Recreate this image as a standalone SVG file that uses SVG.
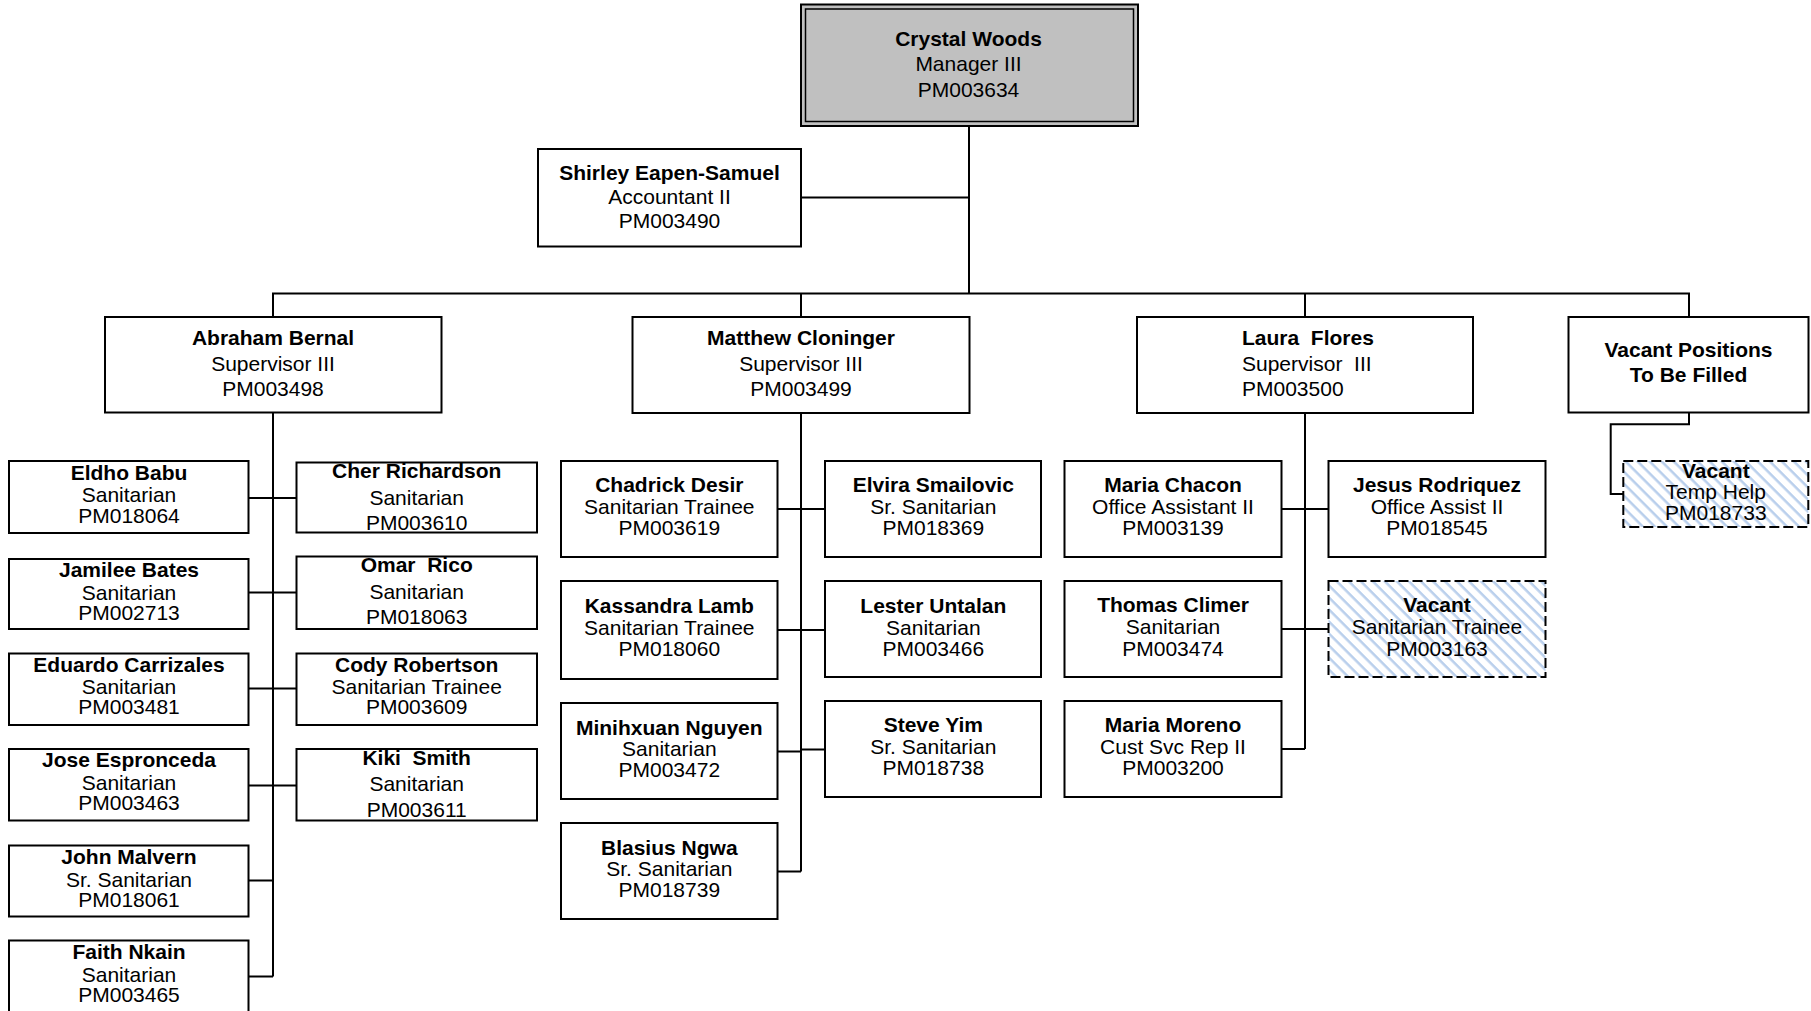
<svg xmlns="http://www.w3.org/2000/svg" width="1811" height="1011" viewBox="0 0 1811 1011">
<style>
text{font-family:"Liberation Sans",Arial,sans-serif;font-size:21px;fill:#000;text-anchor:middle}
.n{font-weight:bold}
.box{fill:#fff;stroke:#000;stroke-width:2}
.vac{fill:url(#hatch);stroke:#000;stroke-width:2;stroke-dasharray:10 4}
.ln{fill:none;stroke:#000;stroke-width:2}
.ls{text-anchor:start}
</style>
<defs>
<pattern id="hatch" patternUnits="userSpaceOnUse" width="8.5" height="8.5" patternTransform="rotate(45)">
<rect width="8.5" height="8.5" fill="#fff"/>
<rect width="8.5" height="2.5" fill="#b9cfec"/>
</pattern>
</defs>
<rect width="1811" height="1011" fill="#fff"/>
<g id="connectors">
<path class="ln" d="M969,126 V293.5"/>
<path class="ln" d="M801,197.5 H969"/>
<path class="ln" d="M273,317 V293.5 H1689 V317"/>
<path class="ln" d="M801,293.5 V317"/>
<path class="ln" d="M1305,293.5 V317"/>
<path class="ln" d="M273,412.5 V976.5"/>
<path class="ln" d="M248.5,498 H296.5 M248.5,592.5 H296.5 M248.5,688.5 H296.5 M248.5,785.5 H296.5 M248.5,880.5 H273 M248.5,976.5 H273"/>
<path class="ln" d="M801,413 V871.5"/>
<path class="ln" d="M777.5,509 H825 M777.5,630 H825 M777.5,751.5 H801 M801,749.5 H825 M777.5,871.5 H801"/>
<path class="ln" d="M1305,413 V749"/>
<path class="ln" d="M1281.5,509 H1328.5 M1281.5,629 H1328.5 M1281.5,749 H1305"/>
<path class="ln" d="M1689,412.5 V424.3 H1610.7 V494 H1623.3"/>
</g>
<g id="crystal">
<rect x="801" y="4.5" width="337" height="121.5" fill="#c0c0c0" stroke="#000" stroke-width="2"/>
<rect x="805.5" y="9" width="328" height="112.5" fill="none" stroke="#000" stroke-width="1.5"/>
<text class="n" x="968.5" y="45.5">Crystal Woods</text>
<text x="968.5" y="71">Manager III</text>
<text x="968.5" y="96.5">PM003634</text>
</g>
<g id="shirley">
<rect class="box" x="538" y="149" width="263" height="97.5"/>
<text class="n" x="669.5" y="180">Shirley Eapen-Samuel</text>
<text x="669.5" y="204">Accountant II</text>
<text x="669.5" y="228">PM003490</text>
</g>
<g id="abraham">
<rect class="box" x="105" y="317" width="336.5" height="95.5"/>
<text class="n" x="273" y="345">Abraham Bernal</text>
<text x="273" y="370.5">Supervisor III</text>
<text x="273" y="396">PM003498</text>
</g>
<g id="matthew">
<rect class="box" x="632.5" y="317" width="337" height="96"/>
<text class="n" x="801" y="345">Matthew Cloninger</text>
<text x="801" y="370.5">Supervisor III</text>
<text x="801" y="396">PM003499</text>
</g>
<g id="laura">
<rect class="box" x="1137" y="317" width="336" height="96"/>
<text class="n ls" x="1242" y="345" xml:space="preserve">Laura  Flores</text>
<text class="ls" x="1242" y="370.5" xml:space="preserve">Supervisor  III</text>
<text class="ls" x="1242" y="396">PM003500</text>
</g>
<g id="vacant-positions">
<rect class="box" x="1568.5" y="317" width="240" height="95.5"/>
<text class="n" x="1688.5" y="356.5">Vacant Positions</text>
<text class="n" x="1688.5" y="381.5">To Be Filled</text>
</g>
<g id="eldho">
<rect class="box" x="9" y="461" width="239.5" height="72"/>
<text class="n" x="129" y="479.5">Eldho Babu</text>
<text x="129" y="502">Sanitarian</text>
<text x="129" y="522.5">PM018064</text>
</g>
<g id="cher">
<rect class="box" x="296.5" y="462.5" width="240.5" height="70"/>
<text class="n" x="416.7" y="477.5">Cher Richardson</text>
<text x="416.7" y="504.5">Sanitarian</text>
<text x="416.7" y="529.5">PM003610</text>
</g>
<g id="jamilee">
<rect class="box" x="9" y="559" width="239.5" height="70"/>
<text class="n" x="129" y="577">Jamilee Bates</text>
<text x="129" y="599.5">Sanitarian</text>
<text x="129" y="619.5">PM002713</text>
</g>
<g id="omar">
<rect class="box" x="296.5" y="556.5" width="240.5" height="72.5"/>
<text class="n" x="416.7" y="572" xml:space="preserve">Omar  Rico</text>
<text x="416.7" y="599">Sanitarian</text>
<text x="416.7" y="623.5">PM018063</text>
</g>
<g id="eduardo">
<rect class="box" x="9" y="653.5" width="239.5" height="71.5"/>
<text class="n" x="129" y="671.5">Eduardo Carrizales</text>
<text x="129" y="694">Sanitarian</text>
<text x="129" y="714">PM003481</text>
</g>
<g id="cody">
<rect class="box" x="296.5" y="653.5" width="240.5" height="71.5"/>
<text class="n" x="416.7" y="671.5">Cody Robertson</text>
<text x="416.7" y="694">Sanitarian Trainee</text>
<text x="416.7" y="714">PM003609</text>
</g>
<g id="jose">
<rect class="box" x="9" y="749" width="239.5" height="71.5"/>
<text class="n" x="129" y="767">Jose Espronceda</text>
<text x="129" y="789.5">Sanitarian</text>
<text x="129" y="809.5">PM003463</text>
</g>
<g id="kiki">
<rect class="box" x="296.5" y="749" width="240.5" height="71.5"/>
<text class="n" x="416.7" y="764.5" xml:space="preserve">Kiki  Smith</text>
<text x="416.7" y="791">Sanitarian</text>
<text x="416.7" y="816.5">PM003611</text>
</g>
<g id="john">
<rect class="box" x="9" y="845.5" width="239.5" height="71"/>
<text class="n" x="129" y="864">John Malvern</text>
<text x="129" y="886.5">Sr. Sanitarian</text>
<text x="129" y="906.5">PM018061</text>
</g>
<g id="faith">
<rect class="box" x="9" y="940.5" width="239.5" height="72"/>
<text class="n" x="129" y="959">Faith Nkain</text>
<text x="129" y="981.5">Sanitarian</text>
<text x="129" y="1001.5">PM003465</text>
</g>
<g id="chadrick">
<rect class="box" x="561" y="461" width="216.5" height="96"/>
<text class="n" x="669.3" y="492">Chadrick Desir</text>
<text x="669.3" y="513.5">Sanitarian Trainee</text>
<text x="669.3" y="535">PM003619</text>
</g>
<g id="elvira">
<rect class="box" x="825" y="461" width="216" height="96"/>
<text class="n" x="933.3" y="492">Elvira Smailovic</text>
<text x="933.3" y="513.5">Sr. Sanitarian</text>
<text x="933.3" y="535">PM018369</text>
</g>
<g id="kassandra">
<rect class="box" x="561" y="581" width="216.5" height="98"/>
<text class="n" x="669.3" y="613">Kassandra Lamb</text>
<text x="669.3" y="635">Sanitarian Trainee</text>
<text x="669.3" y="656">PM018060</text>
</g>
<g id="lester">
<rect class="box" x="825" y="581" width="216" height="96"/>
<text class="n" x="933.3" y="612.5">Lester Untalan</text>
<text x="933.3" y="635">Sanitarian</text>
<text x="933.3" y="656">PM003466</text>
</g>
<g id="minihxuan">
<rect class="box" x="561" y="703" width="216.5" height="96"/>
<text class="n" x="669.3" y="735">Minihxuan Nguyen</text>
<text x="669.3" y="756">Sanitarian</text>
<text x="669.3" y="777">PM003472</text>
</g>
<g id="steve">
<rect class="box" x="825" y="701" width="216" height="96"/>
<text class="n" x="933.3" y="731.5">Steve Yim</text>
<text x="933.3" y="753.5">Sr. Sanitarian</text>
<text x="933.3" y="775">PM018738</text>
</g>
<g id="blasius">
<rect class="box" x="561" y="823" width="216.5" height="96"/>
<text class="n" x="669.3" y="855">Blasius Ngwa</text>
<text x="669.3" y="876">Sr. Sanitarian</text>
<text x="669.3" y="897">PM018739</text>
</g>
<g id="maria-chacon">
<rect class="box" x="1064.5" y="461" width="217" height="96"/>
<text class="n" x="1173" y="492">Maria Chacon</text>
<text x="1173" y="513.5">Office Assistant II</text>
<text x="1173" y="535">PM003139</text>
</g>
<g id="jesus">
<rect class="box" x="1328.5" y="461" width="217" height="96"/>
<text class="n" x="1437" y="492">Jesus Rodriquez</text>
<text x="1437" y="513.5">Office Assist II</text>
<text x="1437" y="535">PM018545</text>
</g>
<g id="thomas">
<rect class="box" x="1064.5" y="581" width="217" height="96"/>
<text class="n" x="1173" y="611.5">Thomas Climer</text>
<text x="1173" y="634">Sanitarian</text>
<text x="1173" y="656">PM003474</text>
</g>
<g id="vacant-trainee">
<rect class="vac" x="1328.5" y="581" width="217" height="96"/>
<text class="n" x="1437" y="611.5">Vacant</text>
<text x="1437" y="634">Sanitarian Trainee</text>
<text x="1437" y="656">PM003163</text>
</g>
<g id="maria-moreno">
<rect class="box" x="1064.5" y="701" width="217" height="96"/>
<text class="n" x="1173" y="731.5">Maria Moreno</text>
<text x="1173" y="754">Cust Svc Rep II</text>
<text x="1173" y="775">PM003200</text>
</g>
<g id="vacant-temp">
<rect class="vac" x="1623.3" y="461" width="185" height="66"/>
<text class="n" x="1715.8" y="477.5">Vacant</text>
<text x="1715.8" y="499">Temp Help</text>
<text x="1715.8" y="519.5">PM018733</text>
</g>
</svg>
